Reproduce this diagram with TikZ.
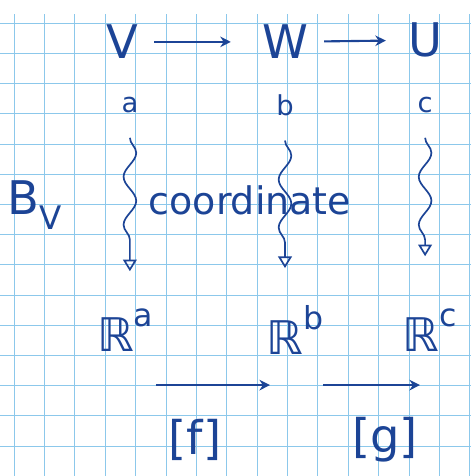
\documentclass[tikz,border=0pt]{standalone}
\usepackage{fontspec}
\setmainfont{DejaVu Sans}
\usetikzlibrary{arrows.meta,decorations.pathmorphing}
\definecolor{ink}{RGB}{28,68,150}
\definecolor{paper}{RGB}{140,200,235}
\newcommand{\powr}[1]{ℝ\raisebox{0.55em}{\fontsize{30}{32}\selectfont #1}}
\begin{document}
\begin{tikzpicture}[
  hand/.style={text=ink, inner sep=1pt},
  big/.style={hand, font=\fontsize{44}{48}\selectfont},
  mid/.style={hand, font=\fontsize{36}{40}\selectfont},
  small/.style={hand, font=\fontsize{26}{30}\selectfont, outer ysep=0.8cm},
  arrow/.style={-{Stealth[length=10pt,width=10pt]}, draw=ink, line width=2pt},
  squig/.style={-{Triangle[open,length=11pt,width=13pt]}, draw=ink, line width=1.6pt,
    decorate, decoration={snake, amplitude=6pt, segment length=1.6cm, post length=11pt}}
]
\useasboundingbox (0,0) rectangle (15.7,15.867);
% squared paper
\begin{scope}
\clip (0,0) rectangle (15.7,15.37);
\draw[paper, line width=0.8pt, xstep=1.013, ystep=1.007, shift={(0.467,-0.01)}] (-1,-1) grid (16,16);
\end{scope}
% top row
\node[big] (V) at (4.07,14.47) {V};
\node[big] (W) at (9.5,14.47) {W};
\node[big] (U) at (14.17,14.53) {U};
\node[small] (a) at (4.33,12.37) {a};
\node[small] (b) at (9.5,12.37) {b};
\node[small] (c) at (14.17,12.37) {c};
% bases
\node[big] (BV) at (1.17,9.03) {B\textsubscript{V}};
\node[mid] (coord) at (8.33,9.2) {coordinate};
% bottom row
\node[big, outer ysep=1.2cm] (Ra) at (4.17,4.87) {\powr{a}};
\node[big, outer ysep=1.2cm] (Rb) at (9.83,4.87) {\powr{b}};
\node[big, outer ysep=1.7cm] (Rc) at (14.33,4.87) {\powr{c}};
\coordinate (f0) at (5.2,3.03);
\coordinate (f1) at (9.0,3.03);
\coordinate (g0) at (10.77,3.03);
\coordinate (g1) at (14.0,3.03);
\node[big] (f) at (6.5,1.2) {[f]};
\node[big] (g) at (12.83,1.2) {[g]};
\draw[arrow, shorten <=0.5cm, shorten >=1cm] (V) -- (W);
\draw[arrow, shorten <=0.5cm, shorten >=0.7cm] (W) -- (U);
\draw[squig] (a.south) -- (a.south |- Ra.north);
\draw[squig] (b.south) -- (b.south |- Rb.north);
\draw[squig] (c.south) -- (c.south |- Rc.north);
\draw[arrow] (f0) -- (f1);
\draw[arrow] (g0) -- (g1);
\end{tikzpicture}
\end{document}
